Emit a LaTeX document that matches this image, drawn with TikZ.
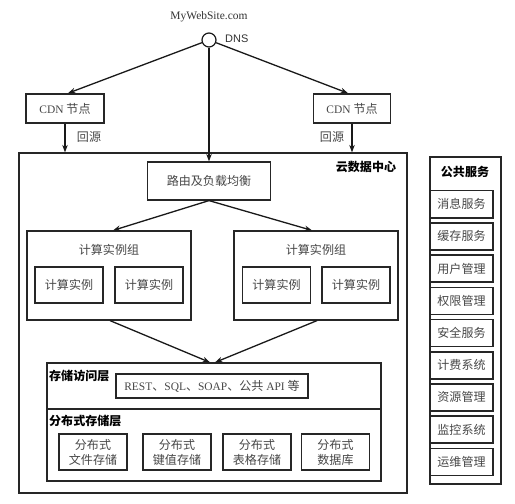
\documentclass[tikz,border=0pt]{standalone}
\usepackage{fontspec}
\setmainfont{Liberation Serif}
\newfontfamily\cjk[Scale=1.05]{Noto Sans CJK SC}
\newfontfamily\dnsfont{Liberation Sans}
\usetikzlibrary{arrows.meta}
\begin{document}
\begin{tikzpicture}[x=1bp,y=-1bp,
  font=\fontsize{11.5}{14}\selectfont,
  box/.style={draw=black!85, line width=1.2bp, fill=white, inner sep=0pt, text=black!72},
  ibox/.style={box, line width=1.6bp},
  lbl/.style={inner sep=0pt, text=black!72},
  blbl/.style={inner sep=0pt, text=black, font=\fontsize{11.5}{14}\selectfont\cjk\bfseries},
  arr/.style={-{Stealth[length=7.5bp,width=5.5bp]}, line width=1.3bp, draw=black!90}]
\fill[white] (0,0) rectangle (515,504);
\useasboundingbox (0,0) rectangle (515,504);

% top
\node[lbl, text=black!80] (site) at (209,17) {MyWebSite.com};
\node[circle, draw=black!90, line width=1.2bp, fill=white, minimum size=14bp, inner sep=0pt] (dns) at (209,40) {};
\node[lbl, anchor=west, text=black!80, font=\fontsize{11}{13}\selectfont\dnsfont] (dnslbl) at (225,39) {DNS};

\node[ibox, minimum width=78bp, minimum height=29bp] (cdnL) at (65,108.5) {CDN {\cjk 节点}};
\node[ibox, minimum width=77bp, minimum height=29bp] (cdnR) at (352,108.5) {CDN {\cjk 节点}};

% cloud data center
\node[box, minimum width=388bp, minimum height=340bp] (cloud) at (213,323) {};
\node[blbl] (cloudlbl) at (366,167) {云数据中心};

\node[lbl] (hyL) at (89,137) {\cjk 回源};
\node[lbl] (hyR) at (332,137) {\cjk 回源};

\node[box, minimum width=123bp, minimum height=38bp] (router) at (209,181) {\cjk 路由及负载均衡};

% compute groups
\node[box, minimum width=164bp, minimum height=89bp] (groupL) at (109,275.5) {};
\node[box, minimum width=164bp, minimum height=89bp] (groupR) at (316,275.5) {};
\node[lbl] (gLlbl) at (109,250) {\cjk 计算实例组};
\node[lbl] (gRlbl) at (316,250) {\cjk 计算实例组};
\node[ibox, minimum width=68bp, minimum height=36bp] (i1) at (69,285) {\cjk 计算实例};
\node[ibox, minimum width=68bp, minimum height=36bp] (i2) at (149,285) {\cjk 计算实例};
\node[ibox, minimum width=68bp, minimum height=36bp] (i3) at (276.5,285) {\cjk 计算实例};
\node[ibox, minimum width=68bp, minimum height=36bp] (i4) at (356,285) {\cjk 计算实例};

% storage access layer
\node[box, minimum width=334bp, minimum height=46bp] (access) at (214,386) {};
\node[blbl, anchor=west] (acclbl) at (49,376) {存储访问层};
\node[ibox, minimum width=192bp, minimum height=24bp] (rest) at (212,386) {REST{\cjk 、}SQL{\cjk 、}SOAP{\cjk 、公共} API {\cjk 等}};

% distributed storage layer
\node[box, minimum width=334bp, minimum height=72bp] (dist) at (214,445) {};
\node[blbl, anchor=west] (distlbl) at (49,421) {分布式存储层};
\node[ibox, minimum width=68bp, minimum height=36bp, align=center, font=\fontsize{11.5}{15}\selectfont\cjk] (s1) at (93,452) {分布式\\文件存储};
\node[ibox, minimum width=68bp, minimum height=36bp, align=center, font=\fontsize{11.5}{15}\selectfont\cjk] (s2) at (177,452) {分布式\\键值存储};
\node[ibox, minimum width=68bp, minimum height=36bp, align=center, font=\fontsize{11.5}{15}\selectfont\cjk] (s3) at (257,452) {分布式\\表格存储};
\node[ibox, minimum width=68bp, minimum height=36bp, align=center, font=\fontsize{11.5}{15}\selectfont\cjk] (s4) at (335.5,452) {分布式\\数据库};

% public services
\node[box, line width=1.6bp, minimum width=71bp, minimum height=327bp] (pub) at (465.5,320.5) {};
\node[blbl] (publbl) at (465,172) {公共服务};
\foreach \t [count=\i from 0] in {消息服务,缓存服务,用户管理,权限管理,安全服务,计费系统,资源管理,监控系统,运维管理}
  \node[ibox, minimum width=63bp, minimum height=27bp] (pub\i) at (461.5,{204.2+32.2*\i}) {\cjk \t};

% arrows
\draw[arr] (dns) -- ([xshift=3bp]cdnL.north);
\draw[arr] (dns) -- ([xshift=-4bp]cdnR.north);
\draw[arr] (dns) -- (router.north);
\draw[arr] (cdnL.south) -- (cdnL.south |- cloud.north);
\draw[arr] (cdnR.south) -- (cdnR.south |- cloud.north);
\draw[arr] (router.south) -- ([xshift=4bp]groupL.north);
\draw[arr] (router.south) -- ([xshift=-4bp]groupR.north);
\draw[arr] ([xshift=1bp]groupL.south) -- ([xshift=-4bp]access.north);
\draw[arr] ([xshift=1bp]groupR.south) -- ([xshift=1bp]access.north);
\end{tikzpicture}
\end{document}
